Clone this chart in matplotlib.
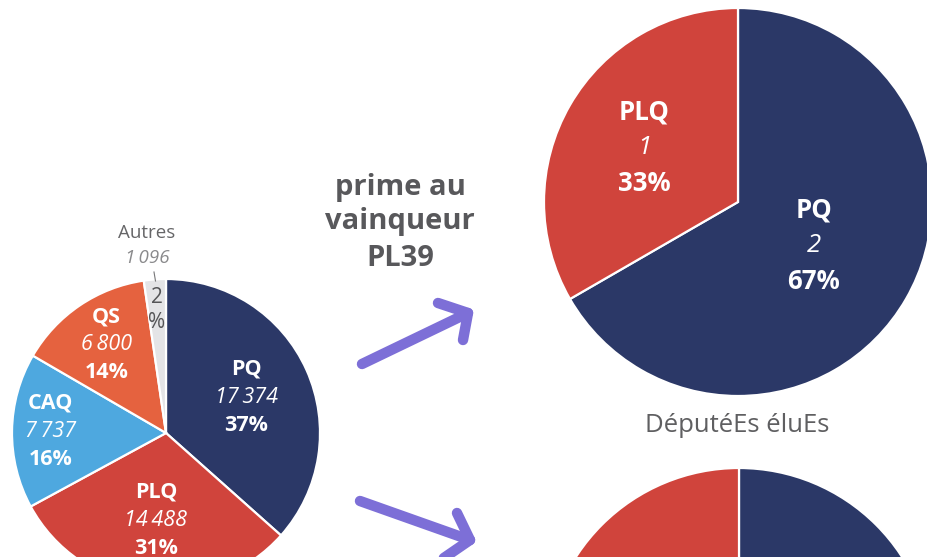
import numpy as np
import matplotlib.pyplot as plt

plt.rcParams['font.family'] = ['Open Sans', 'DejaVu Sans']

W, H = 928, 557

# Votes dans la circonscription
partis = ['PQ', 'PLQ', 'CAQ', 'QS', 'Autres']
votes = [17374, 14488, 7737, 6800, 1096]

# DéputéEs avec la prime au vainqueur (PL39)
partis_prime = ['PQ', 'PLQ']
sieges_prime = [2, 1]

# DéputéEs élUes (camembert du bas, coupé)
partis_bas = ['PQ', 'PLQ']
sieges_bas = [1, 1]

couleurs = {'PQ': '#2b3867', 'PLQ': '#d0443c', 'CAQ': '#4ea8df',
            'QS': '#e5623f', 'Autres': '#e4e4e6'}
violet = '#7d6fd7'
gris = '#58585b'


def py(y):
    # coordonnées image (y vers le bas) -> axes (y vers le haut)
    return H - y


def nombre(n):
    return f"{n:,}".replace(",", "\u2009")


def camembert(vals, noms, cx, cy, r):
    wedges, _ = ax.pie(vals, colors=[couleurs[n] for n in noms], startangle=90,
                       counterclock=False, center=(cx, py(cy)), radius=r,
                       wedgeprops=dict(edgecolor='white', linewidth=1.6))
    return wedges


def position(w, f):
    a = np.radians((w.theta1 + w.theta2) / 2)
    cx, cy = w.center
    return cx + f * w.r * np.cos(a), cy + f * w.r * np.sin(a)


def etiquette(x, y, nom, val, pct, taille, pas):
    ax.text(x, y + pas, nom, color='white', weight='bold', size=taille, ha='center', va='center')
    ax.text(x, y, val, color='white', style='italic', size=taille, ha='center', va='center')
    ax.text(x, y - pas, pct, color='white', weight='bold', size=taille, ha='center', va='center')


fig = plt.figure(figsize=(W / 100, H / 100), dpi=100)
ax = fig.add_axes([0, 0, 1, 1])

# --- camembert des votes (gauche)
total = sum(votes)
w_votes = camembert(votes, partis, 166, 433, 154)
facteurs = {'PQ': 0.57, 'PLQ': 0.57, 'CAQ': 0.75, 'QS': 0.69}
for w, nom, v in zip(w_votes, partis, votes):
    pct = f"{round(100 * v / total)}%"
    if nom in facteurs:
        x, y = position(w, facteurs[nom])
        etiquette(x, y, nom, nombre(v), pct, 15.5, 28)
    else:
        # petite tranche : le pourcentage est coupé sur deux lignes
        x, y = position(w, 0.88)
        ax.text(x + 1, y, pct[:-1], color='#555557', size=15, ha='center', va='center')
        ax.text(x, y - 25, '%', color='#555557', size=15, ha='center', va='center')
        ax.text(147, py(233), nom, color='#666668', size=13.5, ha='center', va='center')
        ax.text(147, py(258), nombre(v), color='#8a8a8c', style='italic', size=13.5, ha='center', va='center')
        ax.plot([154, 155.5], [py(272), py(281)], color='#777779', lw=0.8)

# --- camembert avec prime (haut droite)
tot_p = sum(sieges_prime)
w_prime = camembert(sieges_prime, partis_prime, 738, 202, 194)
fact_p = {'PQ': 0.45, 'PLQ': 0.56}
for w, nom, v in zip(w_prime, partis_prime, sieges_prime):
    x, y = position(w, fact_p[nom])
    etiquette(x, y, nom, str(v), f"{round(100 * v / tot_p)}%", 18.5, 36)

# --- camembert du bas
w_bas = camembert(sieges_bas, partis_bas, 739, 662, 194)
ax.text(737, py(425), 'DéputéEs éluEs', color='#5f5f61', size=18.5, ha='center', va='center')

# --- texte du milieu
for ligne, y in zip(['prime au', 'vainqueur', 'PL39'], [187, 222, 258]):
    ax.text(400, py(y), ligne, color=gris, weight='bold', size=21, ha='center', va='center')

# --- flèches
kw = dict(color=violet, lw=7.5, solid_capstyle='round', solid_joinstyle='round')
ax.plot([362, 468], [py(364), py(313)], **kw)
ax.plot([438, 468, 463], [py(303), py(313), py(340)], **kw)
ax.plot([360, 470], [py(501), py(540)], **kw)
ax.plot([457, 470, 438], [py(513), py(540), py(562)], **kw)

ax.set_xlim(0, W)
ax.set_ylim(0, H)
ax.set_aspect('equal')
ax.axis('off')

fig.savefig('out.png', dpi=100)
